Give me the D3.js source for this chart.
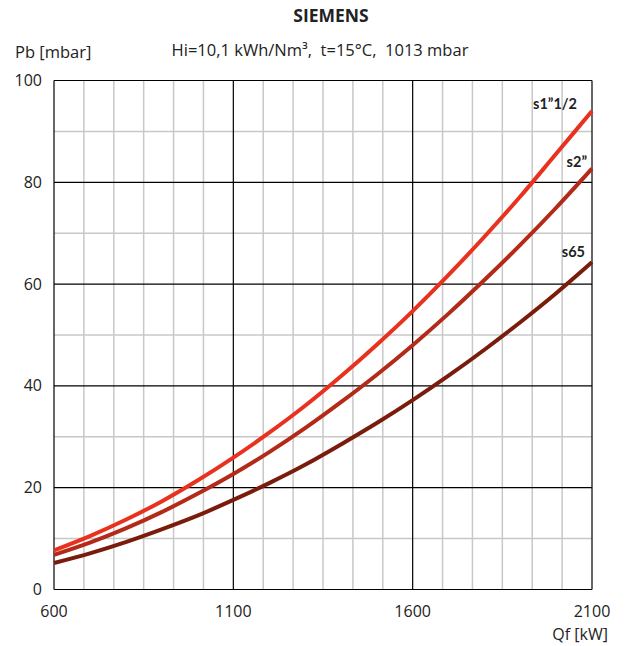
<!DOCTYPE html>
<html><head><meta charset="utf-8">
<script src="https://cdn.jsdelivr.net/npm/d3@7"></script>
<style>body{margin:0;background:#fff;} text{font-family:"Open Sans",Lato,sans-serif;fill:#222;white-space:pre;}</style>
</head><body>
<svg id="c" width="626" height="646"></svg>
<script>
const qf = [600,700,800,900,1000,1100,1200,1300,1400,1500,1600,1700,1800,1900,2000,2100];
const s1_1_2 = [7.7,10.5,13.7,17.3,21.4,25.9,30.8,36.1,41.9,48.1,54.7,61.8,69.3,77.2,85.6,94.0];
const s2 = [6.8,9.2,12.0,15.2,18.8,22.7,27.0,31.7,36.8,42.2,48.0,54.2,60.8,67.7,75.0,82.7];
const s65 = [5.2,7.1,9.3,11.8,14.5,17.6,20.9,24.5,28.5,32.7,37.2,42.0,47.1,52.5,58.2,64.3];
const seriesNames = ["s1\u201d1/2","s2\u201d","s65"];
const xTicks = [600,1100,1600,2100];
const yTicks = [0,20,40,60,80,100];
const title = "SIEMENS";
const subtitle = "Hi=10,1 kWh/Nm\u00b3,  t=15\u00b0C,  1013 mbar";

const svg = d3.select("#c");
const x = d3.scaleLinear().domain([600,2100]).range([54,592]);
const y = d3.scaleLinear().domain([0,100]).range([589.5,80.5]);

// minor grid
const xMinor = d3.range(0,19).map(i=>600+i*250/3).filter(v=>!xTicks.includes(Math.round(v)));
const yMinor = d3.range(10,100,20);
const g = svg.append("g");
g.selectAll(".vm").data(xMinor).enter().append("line")
  .attr("x1",d=>x(d)).attr("x2",d=>x(d)).attr("y1",y(0)).attr("y2",y(100))
  .attr("stroke","#c8c8c8").attr("stroke-width",1.5);
g.selectAll(".hm").data(yMinor).enter().append("line")
  .attr("x1",x(600)).attr("x2",x(2100)).attr("y1",d=>y(d)).attr("y2",d=>y(d))
  .attr("stroke","#c8c8c8").attr("stroke-width",1.5);
// major grid
g.selectAll(".vM").data(xTicks).enter().append("line")
  .attr("x1",d=>x(d)).attr("x2",d=>x(d)).attr("y1",y(0)).attr("y2",y(100))
  .attr("stroke","#000").attr("stroke-width",1.2);
g.selectAll(".hM").data(yTicks).enter().append("line")
  .attr("x1",x(600)).attr("x2",x(2100)).attr("y1",d=>y(d)).attr("y2",d=>y(d))
  .attr("stroke","#000").attr("stroke-width",1.2);

// tick labels
svg.selectAll(".yl").data(yTicks).enter().append("text")
  .attr("x",42).attr("y",d=>y(d)+5.5).attr("text-anchor","end")
  .attr("font-size",16).text(d=>d);
svg.selectAll(".xl").data(xTicks).enter().append("text")
  .attr("x",d=>x(d)).attr("y",617).attr("text-anchor","middle")
  .attr("font-size",16).text(d=>d);

// titles
svg.append("text").attr("x",331).attr("y",22).attr("text-anchor","middle")
  .attr("font-size",17.5).attr("font-weight","bold").text(title);
svg.append("text").attr("x",320).attr("y",56).attr("text-anchor","middle")
  .attr("font-size",16.5).text(subtitle);
svg.append("text").attr("x",15).attr("y",58).attr("font-size",16.5).text("Pb [mbar]");
svg.append("text").attr("x",608).attr("y",640).attr("text-anchor","end")
  .attr("font-size",16).text("Qf [kW]");

// curves
const data = [s1_1_2,s2,s65];
const colors = ["#e8321f","#b42a18","#7a1c0c"];
const labelDx = [-15,-5,-7];
const labelDy = [-2,-2,-5];
const line = d3.line().x((d,i)=>x(qf[i])).y(d=>y(d)).curve(d3.curveMonotoneX);
data.forEach((s,k)=>{
  svg.append("path").attr("d",line(s)).attr("fill","none")
    .attr("stroke",colors[k]).attr("stroke-width",4);
  svg.append("text").attr("x",x(2100)+labelDx[k]).attr("y",y(s[s.length-1])+labelDy[k])
    .attr("text-anchor","end").attr("font-size",14.5).attr("font-weight","bold")
    .style("font-family","Lato,sans-serif").text(seriesNames[k]);
});
</script>
</body></html>
